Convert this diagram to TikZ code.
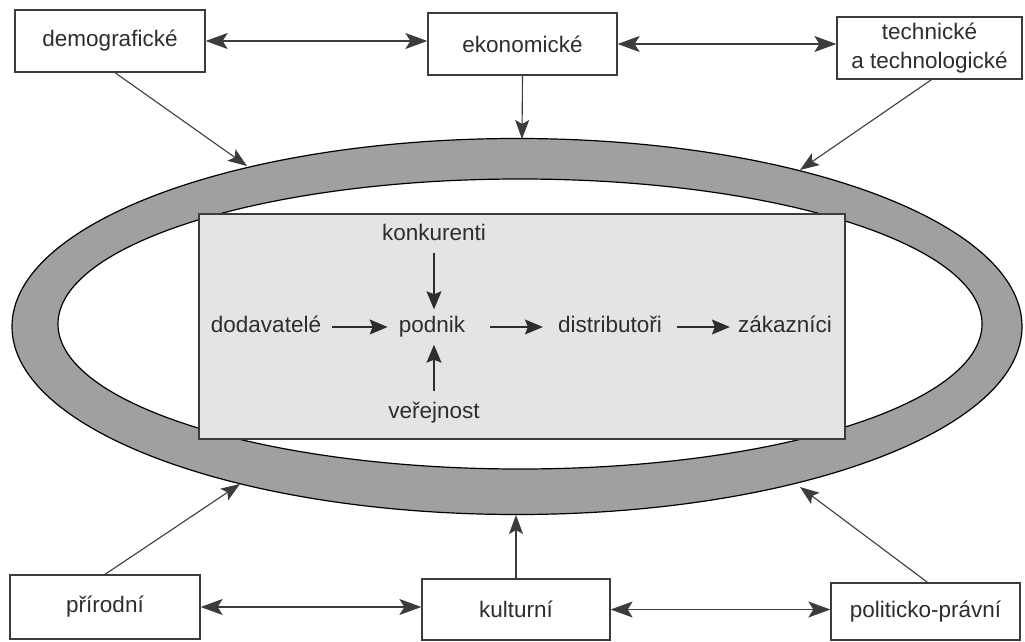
\documentclass[tikz,border=0pt]{standalone}
\usepackage{fontspec}
\setmainfont{Liberation Sans}
\usetikzlibrary{arrows.meta,calc}
\definecolor{band}{RGB}{160,160,160}
\definecolor{rectfill}{RGB}{228,228,228}
\definecolor{ink}{RGB}{45,45,45}
\definecolor{lineink}{RGB}{60,60,60}
\begin{document}
\begin{tikzpicture}[x=1pt,y=-1pt,
  every node/.style={text=ink,font=\fontsize{22.5}{29}\selectfont},
  outerbox/.style={draw=lineink,line width=1.3pt,fill=white,align=center,inner sep=0pt},
  innertxt/.style={inner sep=6pt,text height=16pt,text depth=5pt},
  link/.style={draw=lineink,line width=1.1pt,-{Stealth[length=19pt,width=14pt,inset=4pt]}},
  dlink/.style={draw=lineink,line width=1.2pt,{Stealth[length=22pt,width=16pt,inset=5pt]}-{Stealth[length=22pt,width=16pt,inset=5pt]}},
  inarrow/.style={draw=ink,line width=1.3pt,-{Stealth[length=18pt,width=15pt,inset=3pt]}}]
\useasboundingbox (0,0) rectangle (1025,642);
\fill[white] (0,0) rectangle (1025,642);

% environment ring
\draw[line width=1.2pt,fill=band] (517,326.5) ellipse [x radius=505pt, y radius=188pt];
\draw[line width=1.2pt,fill=white] (520,324) ellipse [x radius=462pt, y radius=145pt];

% inner micro-environment
\draw[draw=lineink,line width=1.2pt,fill=rectfill] (199,214) rectangle (845,439);

% outer boxes
\node[outerbox,minimum width=190pt,minimum height=62pt] (demo) at (110,41) {demografické};
\node[outerbox,minimum width=189pt,minimum height=62pt] (eko) at (522.5,44) {ekonomické};
\node[outerbox,minimum width=185pt,minimum height=62pt] (tech) at (929.5,48) {technické\\a technologické};
\node[outerbox,minimum width=190pt,minimum height=64pt] (prir) at (105,607) {přírodní};
\node[outerbox,minimum width=188pt,minimum height=61pt] (kult) at (516,609.5) {kulturní};
\node[outerbox,minimum width=189pt,minimum height=57pt] (polit) at (925.5,611.5) {politicko-právní};

% tips on the ring
\coordinate (tdemo) at (247,166);
\coordinate (teko) at (522,139);
\coordinate (ttech) at (800,170);
\coordinate (tprir) at (240,484);
\coordinate (tkult) at (516,515);
\coordinate (tpolit) at (800,487);

\draw[dlink] (demo.east) -- (demo.east -| eko.west);
\draw[dlink] (eko.east) -- (eko.east -| tech.west);
\draw[dlink] (prir.east) -- (prir.east -| kult.west);
\draw[dlink] (kult.east) -- (kult.east -| polit.west);

\draw[link] ($(demo.south)+(5,0)$) -- (tdemo);
\draw[link] (eko.south) -- (teko);
\draw[link] ($(tech.south)+(2,0)$) -- (ttech);
\draw[link] (prir.north) -- (tprir);
\draw[link] (kult.north) -- (tkult);
\draw[link] ($(polit.north)+(2,0)$) -- (tpolit);

% inner nodes
\node[innertxt] (dod) at (266,327) {dodavatelé};
\node[innertxt] (pod) at (432,327) {podnik};
\node[innertxt] (dist) at (610,327) {distributoři};
\node[innertxt] (zak) at (785,327) {zákazníci};
\node[innertxt] (konk) at (434,235) {konkurenti};
\node[innertxt] (ver) at (434,413) {veřejnost};

\draw[inarrow,shorten <=5pt,shorten >=5pt] (dod.east) -- (pod.west);
\draw[inarrow,shorten <=19pt,shorten >=9pt] (pod.east) -- (dist.west);
\draw[inarrow,shorten <=9pt,shorten >=2pt] (dist.east) -- (zak.west);
\draw[inarrow,shorten <=1pt,shorten >=1pt] (konk.south) -- (konk.south |- pod.north);
\draw[inarrow,shorten <=5pt,shorten >=1pt] (ver.north) -- (ver.north |- pod.south);
\end{tikzpicture}
\end{document}
